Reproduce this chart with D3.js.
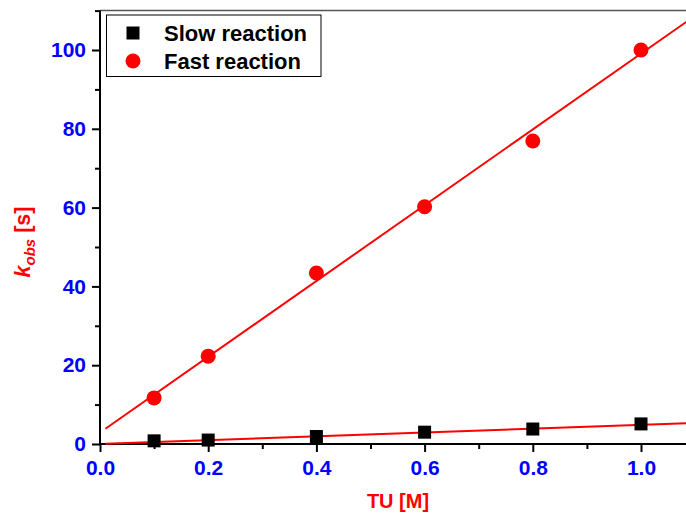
<!DOCTYPE html>
<html><head><meta charset="utf-8">
<script src="https://cdn.jsdelivr.net/npm/d3@7"></script>
<style>body{margin:0;background:#fff}svg{display:block}text{font-family:"Liberation Sans",Arial,sans-serif;font-weight:bold}</style>
</head><body><svg id="c" width="686" height="514"></svg>
<script>
const concentrations = [0.1, 0.2, 0.4, 0.6, 0.8, 1.0];
const slowValues = [0.8, 1.0, 1.9, 3.0, 3.8, 5.1];
const fastValues = [11.7, 22.3, 43.4, 60.2, 76.9, 100.0];
const fitX = [0.01, 1.1];
const slowFitY = [0.05, 5.35];
const fastFitY = [3.86, 108.7];
const xTicks = [0, 0.2, 0.4, 0.6, 0.8, 1.0];
const xMinor = [0.1, 0.3, 0.5, 0.7, 0.9, 1.1];
const yTicks = [0, 20, 40, 60, 80, 100];
const yMinor = [10, 30, 50, 70, 90, 110];
const seriesNames = ["Slow reaction", "Fast reaction"];

const svg = d3.select("#c");
const x = d3.scaleLinear().domain([0, 1.1]).range([100, 100 + 1.1 * 541]);
const y = d3.scaleLinear().domain([0, 110]).range([444, 444 - 110 * 3.94]);

// top frame line
svg.append("line").attr("x1", 100).attr("x2", 700).attr("y1", y(110)).attr("y2", y(110))
  .attr("stroke", "#555").attr("stroke-width", 1.5);

// axes
const xAxis = svg.append("g").attr("transform", "translate(0,444)");
xAxis.call(d3.axisBottom(x).tickValues(xTicks).tickFormat(d3.format(".1f")).tickSize(8).tickPadding(8));
const xMin = svg.append("g").attr("transform", "translate(0,444)");
xMin.call(d3.axisBottom(x).tickValues(xMinor).tickFormat("").tickSize(5));
const yAxis = svg.append("g").attr("transform", "translate(100,0)");
yAxis.call(d3.axisLeft(y).tickValues(yTicks).tickSize(8).tickPadding(6));
const yMin = svg.append("g").attr("transform", "translate(100,0)");
yMin.call(d3.axisLeft(y).tickValues(yMinor).tickFormat("").tickSize(5));
[xAxis, xMin, yAxis, yMin].forEach(g => {
  g.select(".domain").attr("stroke", "#000").attr("stroke-width", 2);
  g.selectAll(".tick line").attr("stroke", "#000").attr("stroke-width", 2);
});
[xMin, yMin].forEach(g => g.select(".domain").remove());
xAxis.select(".domain").attr("d", `M${x(0)},0H${x(1.1)}`);
yAxis.select(".domain").attr("d", `M0,${y(0)}V${y(110)}`);
xAxis.selectAll(".tick text").attr("fill", "#0000ff").attr("font-size", 21).attr("font-weight", "bold")
  .attr("font-family", "Liberation Sans, Arial, sans-serif");
yAxis.selectAll(".tick text").attr("fill", "#0000ff").attr("font-size", 21).attr("font-weight", "bold")
  .attr("font-family", "Liberation Sans, Arial, sans-serif");

// fit lines
const line = d3.line().x(d => x(d[0])).y(d => y(d[1]));
svg.append("path").datum(fitX.map((v, i) => [v, fastFitY[i]])).attr("d", line)
  .attr("stroke", "#ff0000").attr("stroke-width", 2).attr("fill", "none");
svg.append("path").datum(fitX.map((v, i) => [v, slowFitY[i]])).attr("d", line)
  .attr("stroke", "#ff0000").attr("stroke-width", 2).attr("fill", "none");

// markers
svg.append("g").selectAll("rect").data(concentrations.map((c, i) => [c, slowValues[i]])).join("rect")
  .attr("x", d => x(d[0]) - 6.5).attr("y", d => y(d[1]) - 6.5).attr("width", 13).attr("height", 13)
  .attr("fill", "#000");
svg.append("g").selectAll("circle").data(concentrations.map((c, i) => [c, fastValues[i]])).join("circle")
  .attr("cx", d => x(d[0])).attr("cy", d => y(d[1])).attr("r", 7.5).attr("fill", "#ff0000");

// legend
const lg = svg.append("g");
lg.append("rect").attr("x", 106.5).attr("y", 15).attr("width", 214.5).attr("height", 61.5)
  .attr("fill", "#fff").attr("stroke", "#000").attr("stroke-width", 1);
lg.append("rect").attr("x", 133 - 6.5).attr("y", 33 - 6.5).attr("width", 13).attr("height", 13).attr("fill", "#000");
lg.append("circle").attr("cx", 133).attr("cy", 61).attr("r", 7.5).attr("fill", "#ff0000");
lg.append("text").attr("x", 164).attr("y", 40.5).attr("font-size", 22).attr("fill", "#000").text(seriesNames[0]);
lg.append("text").attr("x", 164).attr("y", 68.5).attr("font-size", 22).attr("fill", "#000").text(seriesNames[1]);

// axis titles
svg.append("text").attr("x", 398).attr("y", 508).attr("text-anchor", "middle").attr("font-size", 20)
  .attr("fill", "#ff0000").text("TU [M]");
const yt = svg.append("text").attr("transform", "translate(30,242) rotate(-90)").attr("text-anchor", "middle")
  .attr("font-size", 21.5).attr("fill", "#ff0000");
yt.append("tspan").attr("font-style", "italic").text("k");
yt.append("tspan").attr("font-style", "italic").attr("font-size", 15).attr("dy", 5).text("obs");
yt.append("tspan").attr("dy", -5).text(" [s]");
</script></body></html>
